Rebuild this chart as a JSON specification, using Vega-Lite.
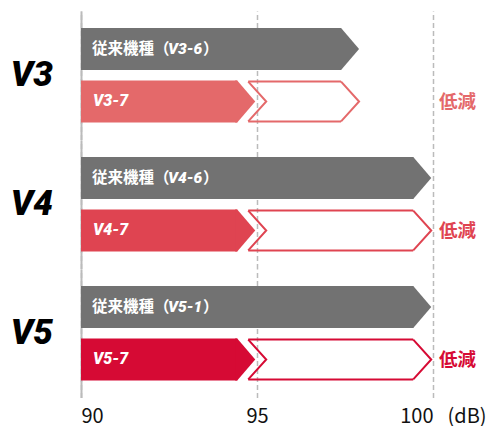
{
  "$schema": "https://vega.github.io/schema/vega-lite/v6.json",
  "padding": {"left": 10, "top": 11, "right": 0, "bottom": 12},
  "background": "white",
  "data": {"values": [
    {"version": "V3", "type": "old", "model": "V3-6", "value": 97.9},
    {"version": "V3", "type": "new", "model": "V3-7", "value": 94.95},
    {"version": "V4", "type": "old", "model": "V4-6", "value": 99.95},
    {"version": "V4", "type": "new", "model": "V4-7", "value": 94.95},
    {"version": "V5", "type": "old", "model": "V5-1", "value": 99.95},
    {"version": "V5", "type": "new", "model": "V5-7", "value": 94.95}
  ]},
  "transform": [
    {"joinaggregate": [{"op": "max", "field": "value", "as": "oldValue"}], "groupby": ["version"]}
  ],
  "facet": {
    "row": {
      "field": "version", "type": "nominal", "title": null,
      "header": {
        "labelOrient": "left", "labelAngle": 0, "labelAlign": "right",
        "labelFont": "Roboto", "labelFontSize": 35, "labelFontWeight": 900,
        "labelFontStyle": "italic", "labelColor": "#000000", "labelPadding": -14
      }
    }
  },
  "spacing": {"row": 0},
  "spec": {
    "width": 352,
    "height": 128.5,
    "layer": [
      {
        "mark": {"type": "bar", "xOffset": -18},
        "encoding": {
          "y": {"field": "type", "type": "nominal", "title": null, "scale": {"type": "band", "domain": ["old", "new"], "paddingInner": 0.2, "paddingOuter": 0.324}},
          "x": {"field": "value", "type": "quantitative", "stack": null, "scale": {"domain": [90, 100], "nice": false, "zero": false},
            "axis": {
              "values": [90, 95, 100],
              "title": "(dB)", "titleX": 366, "titleY": 8, "titleAlign": "left", "titleBaseline": "top", "titleAnchor": null,
              "titleFont": "Noto Sans CJK JP", "titleFontSize": 20, "titleFontWeight": "normal", "titleColor": "#111111"
            }},
          "color": {"field": "model", "type": "nominal", "legend": null,
            "scale": {"domain": ["V3-6", "V3-7", "V4-6", "V4-7", "V5-1", "V5-7"],
                      "range": ["#727272", "#E4696A", "#727272", "#DF4451", "#727272", "#D60A34"]}}
        }
      },
      {
        "mark": {"type": "point", "shape": "M-0.1,-1L0,-1L0.857,0L0,1L-0.1,1Z", "size": 1764, "filled": true, "opacity": 1, "strokeWidth": 0, "xOffset": -18},
        "encoding": {
          "y": {"field": "type", "type": "nominal"},
          "x": {"field": "value", "type": "quantitative"},
          "color": {"field": "model", "type": "nominal"}
        }
      },
      {
        "transform": [{"filter": "datum.type == 'new'"}],
        "mark": {"type": "rule", "strokeWidth": 2, "xOffset": -7, "x2Offset": -18, "yOffset": 1},
        "encoding": {
          "y": {"field": "type", "type": "nominal", "bandPosition": 0},
          "x": {"field": "value", "type": "quantitative"},
          "x2": {"field": "oldValue"},
          "color": {"field": "model", "type": "nominal"}
        }
      },
      {
        "transform": [{"filter": "datum.type == 'new'"}],
        "mark": {"type": "rule", "strokeWidth": 2, "xOffset": -7, "x2Offset": -18, "yOffset": -1},
        "encoding": {
          "y": {"field": "type", "type": "nominal", "bandPosition": 1},
          "x": {"field": "value", "type": "quantitative"},
          "x2": {"field": "oldValue"},
          "color": {"field": "model", "type": "nominal"}
        }
      },
      {
        "transform": [{"filter": "datum.type == 'new'"}],
        "mark": {"type": "point", "shape": "M0,-0.95L0.857,0L0,0.95", "size": 1764, "filled": false, "opacity": 1, "strokeWidth": 2, "xOffset": -18},
        "encoding": {
          "y": {"field": "type", "type": "nominal"},
          "x": {"field": "oldValue", "type": "quantitative"},
          "color": {"field": "model", "type": "nominal"}
        }
      },
      {
        "transform": [{"filter": "datum.type == 'new'"}],
        "mark": {"type": "point", "shape": "M0,-0.95L0.857,0L0,0.95", "size": 1764, "filled": false, "opacity": 1, "strokeWidth": 2, "xOffset": -7},
        "encoding": {
          "y": {"field": "type", "type": "nominal"},
          "x": {"field": "value", "type": "quantitative"},
          "color": {"field": "model", "type": "nominal"}
        }
      },
      {
        "transform": [{"filter": "datum.type == 'new'"}],
        "mark": {"type": "text", "text": "低減", "align": "left", "baseline": "middle", "dx": 6, "dy": 1, "font": "Noto Sans CJK JP", "fontSize": 18.5, "fontWeight": "bold"},
        "encoding": {
          "y": {"field": "type", "type": "nominal"},
          "x": {"datum": 100, "type": "quantitative"},
          "color": {"field": "model", "type": "nominal"}
        }
      },
      {
        "transform": [{"filter": "datum.type == 'new'"}],
        "mark": {"type": "text", "align": "left", "baseline": "middle", "dx": 12, "font": "Roboto", "fontSize": 16, "fontWeight": 900, "fontStyle": "italic", "color": "white"},
        "encoding": {
          "y": {"field": "type", "type": "nominal"},
          "x": {"datum": 90, "type": "quantitative"},
          "text": {"field": "model"}
        }
      },
      {
        "transform": [{"filter": "datum.type == 'old'"}],
        "mark": {"type": "text", "text": "従来機種（", "align": "left", "baseline": "middle", "dx": 11, "font": "Noto Sans CJK JP", "fontSize": 15.5, "fontWeight": "bold", "color": "white"},
        "encoding": {
          "y": {"field": "type", "type": "nominal"},
          "x": {"datum": 90, "type": "quantitative"}
        }
      },
      {
        "transform": [{"filter": "datum.type == 'old'"}],
        "mark": {"type": "text", "align": "left", "baseline": "middle", "dx": 87, "font": "Roboto", "fontSize": 15.5, "fontWeight": 900, "fontStyle": "italic", "color": "white"},
        "encoding": {
          "y": {"field": "type", "type": "nominal"},
          "x": {"datum": 90, "type": "quantitative"},
          "text": {"field": "model"}
        }
      },
      {
        "transform": [{"filter": "datum.type == 'old'"}],
        "mark": {"type": "text", "text": "）", "align": "left", "baseline": "middle", "dx": 122, "font": "Noto Sans CJK JP", "fontSize": 15.5, "fontWeight": "bold", "color": "white"},
        "encoding": {
          "y": {"field": "type", "type": "nominal"},
          "x": {"datum": 90, "type": "quantitative"}
        }
      }
    ]
  },
  "config": {
    "view": {"stroke": null},
    "axisY": {"labels": false, "ticks": false, "grid": false, "domain": true, "domainColor": "#bbbbbb", "domainWidth": 2, "minExtent": 0},
    "axisX": {
      "domain": false, "ticks": false, "grid": true,
      "gridColor": "#bbbbbb", "gridDash": [5, 3], "gridWidth": 1.5,
      "labelFont": "Noto Sans CJK JP", "labelFontSize": 20, "labelColor": "#111111", "labelPadding": 8
    }
  }
}
